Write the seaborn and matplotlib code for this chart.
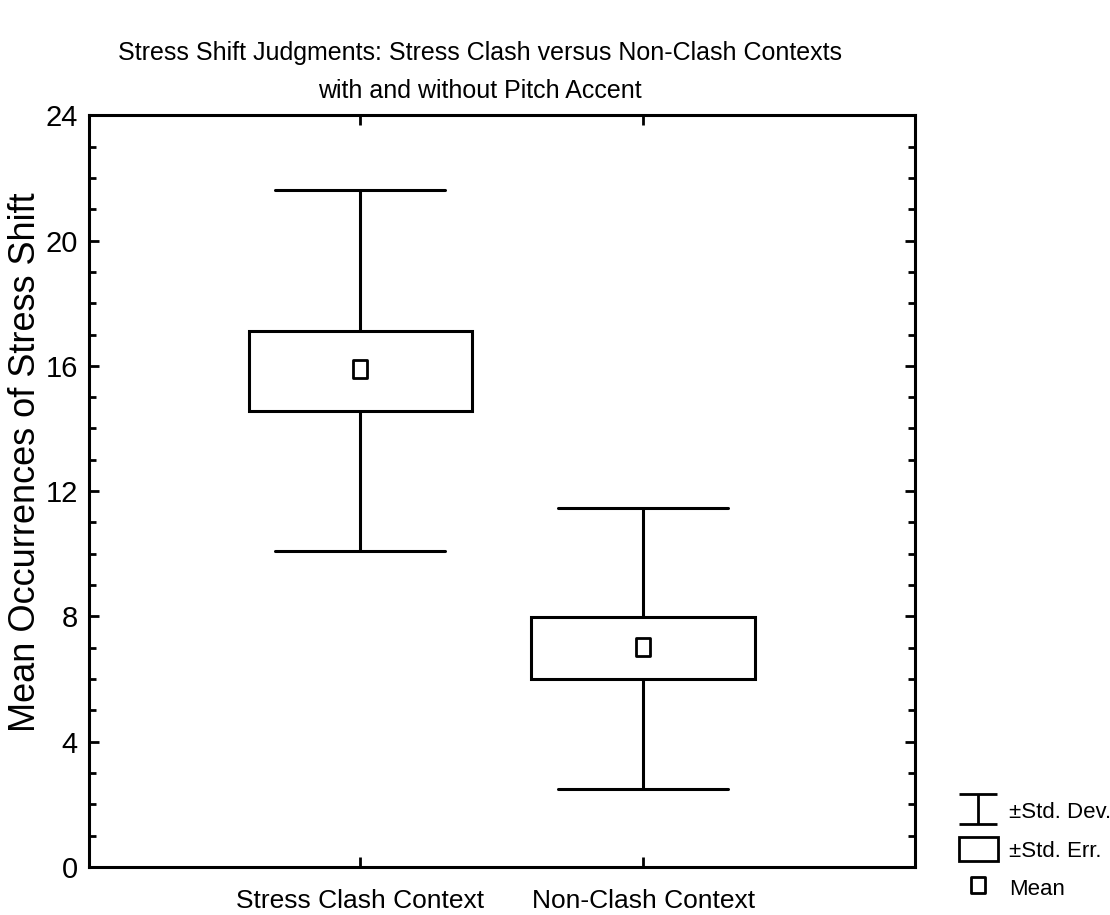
import numpy as np
import pandas as pd
import seaborn as sns
import matplotlib.pyplot as plt
import matplotlib.lines as mlines
import matplotlib.patches as mpatches
from matplotlib.path import Path
from matplotlib.ticker import MultipleLocator

# values
contexts = ["Stress Clash Context", "Non-Clash Context"]
means = [15.9, 7.03]
se_low = [14.55, 6.0]
se_high = [17.1, 7.98]
sd_low = [10.1, 2.48]
sd_high = [21.6, 11.45]

title_1 = "Stress Shift Judgments: Stress Clash versus Non-Clash Contexts"
title_2 = "with and without Pitch Accent"
y_label = "Mean Occurrences of Stress Shift"
y_ticks = [0, 4, 8, 12, 16, 20, 24]

sns.set_theme(style="white")
narrow = ["Liberation Sans Narrow", "DejaVu Sans Condensed", "Liberation Sans", "DejaVu Sans"]
plt.rcParams["font.family"] = narrow
for k in ["text.color", "axes.labelcolor", "xtick.color", "ytick.color"]:
    plt.rcParams[k] = "black"

# five points per group: the box spans the std. err., the whiskers the std. dev.
rows = []
for i, c in enumerate(contexts):
    for v in (sd_low[i], se_low[i], means[i], se_high[i], sd_high[i]):
        rows.append({"context": c, "value": v})
df = pd.DataFrame(rows)
df_mean = pd.DataFrame({"context": contexts, "mean": means})

# tall little rectangle used for the mean
mean_marker = Path([(-0.4, -0.5), (0.4, -0.5), (0.4, 0.5), (-0.4, 0.5), (-0.4, -0.5)],
                   [Path.MOVETO, Path.LINETO, Path.LINETO, Path.LINETO, Path.CLOSEPOLY])

fig = plt.figure(figsize=(11.1, 9.15), dpi=100)
ax = fig.add_axes([0.080, 0.0525, 0.744, 0.8215])

lw = 2.2
sns.boxplot(data=df, x="context", y="value", whis=(0, 100), width=0.79,
            color="white", linecolor="black", linewidth=lw, ax=ax,
            medianprops={"visible": False}, showfliers=False,
            capwidths=0.6)
sns.scatterplot(data=df_mean, x="context", y="mean", marker=mean_marker, s=160,
                facecolor="white", edgecolor="black", linewidth=2, ax=ax, zorder=5)

ax.set_xlim(-0.96, 1.96)
ax.set_ylim(0, 24)
ax.set_yticks(y_ticks)
ax.yaxis.set_minor_locator(MultipleLocator(1))
ax.tick_params(axis="both", which="both", direction="in", color="black",
               top=True, right=True, bottom=True, left=True)
ax.tick_params(axis="y", which="major", length=7, width=2, labelsize=21, pad=8)
ax.tick_params(axis="y", which="minor", length=5, width=2)
ax.tick_params(axis="x", which="major", length=7, width=2, labelsize=19, pad=16)
ax.set_xlabel("")
ax.set_ylabel(y_label, fontsize=26, family=["Liberation Sans", "DejaVu Sans"])
ax.yaxis.set_label_coords(-0.056, 0.539)
for s in ax.spines.values():
    s.set_visible(True)
    s.set_color("black")
    s.set_linewidth(2.2)

fig.text(0.432, 1 - 53 / 915, title_1, ha="center", va="center", fontsize=18)
fig.text(0.432, 1 - 91 / 915, title_2, ha="center", va="center", fontsize=18)

# legend handles
i_path = Path([(-1, 0.75), (1, 0.75), (0, 0.75), (0, -0.75), (-1, -0.75), (1, -0.75)],
              [Path.MOVETO, Path.LINETO, Path.MOVETO, Path.LINETO, Path.MOVETO, Path.LINETO])
h_sd = mlines.Line2D([], [], marker=i_path, linestyle="none", markersize=28,
                     markeredgewidth=2, color="black")
h_se = mpatches.Patch(facecolor="white", edgecolor="black", linewidth=2)
h_mean = mlines.Line2D([], [], marker=mean_marker, linestyle="none", markersize=12,
                       markerfacecolor="white", markeredgecolor="black", markeredgewidth=2)
fig.legend([h_sd, h_se, h_mean], ["\u00b1Std. Dev.", "\u00b1Std. Err.", "Mean"],
           loc="upper left", bbox_to_anchor=(0.864, 0.127), frameon=False,
           fontsize=16, handlelength=1.75, handleheight=1.3, labelspacing=0.62,
           handletextpad=0.5, borderpad=0, borderaxespad=0)

fig.savefig("out.png", dpi=100)
